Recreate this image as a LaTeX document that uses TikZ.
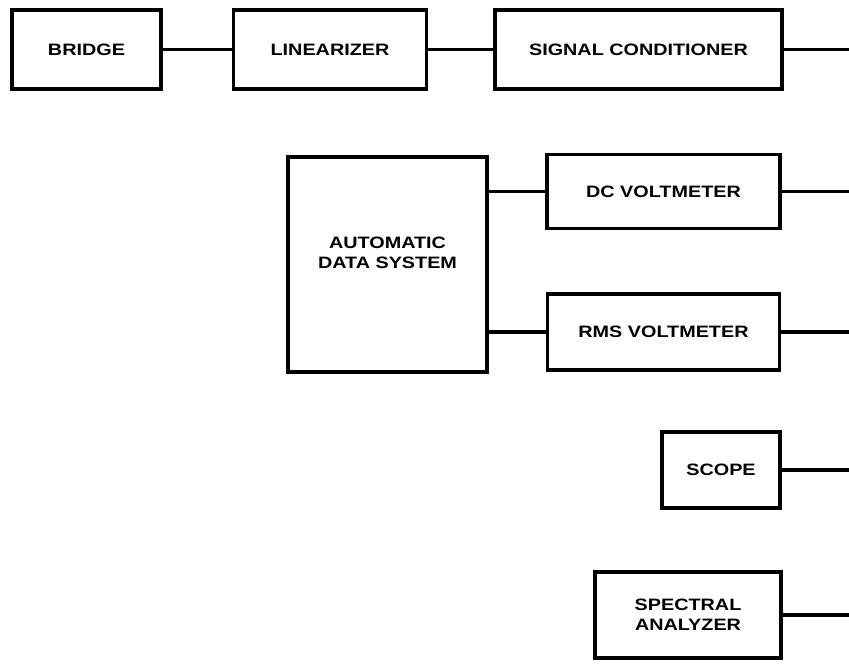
\documentclass[tikz,border=0pt]{standalone}
\usepackage{fontspec}
\setmainfont{Liberation Sans}[FakeStretch=1.2]
\usepackage{tikz}

\begin{document}
\begin{tikzpicture}[x=1pt, y=-1pt, font=\fontsize{16.5}{20}\selectfont\bfseries,
    blk/.style={draw, line width=3.4pt, align=center, inner sep=0pt},
    wire/.style={line width=3.4pt}]
  \useasboundingbox (0,0) rectangle (849,667);
  \coordinate (edge) at (849,0);

  % top chain
  \node[blk, minimum width=149pt, minimum height=79pt] (bridge) at (86.5,49.5) {BRIDGE};
  \node[blk, minimum width=193pt, minimum height=79pt] (lin) at (330,49.5) {LINEARIZER};
  \node[blk, minimum width=287pt, minimum height=79pt] (sig) at (638.5,49.5) {SIGNAL CONDITIONER};
  \draw[wire] (bridge) -- (lin);
  \draw[wire] (lin) -- (sig);
  \draw[wire] (sig.east) -- (sig.east -| edge);

  % data system and meters
  \node[blk, minimum width=199pt, minimum height=215pt] (ads) at (387.5,264.5) {AUTOMATIC\\DATA SYSTEM\\[4pt]\mbox{}};
  \node[blk, minimum width=233pt, minimum height=74pt] (dc) at (663.5,191.5) {DC VOLTMETER};
  \node[blk, minimum width=232pt, minimum height=76pt] (rms) at (663.5,332) {RMS VOLTMETER};
  \draw[wire] (dc.west -| ads.east) -- (dc.west);
  \draw[wire] (rms.west -| ads.east) -- (rms.west);
  \draw[wire] (dc.east) -- (dc.east -| edge);
  \draw[wire] (rms.east) -- (rms.east -| edge);

  % scope and analyzer
  \node[blk, minimum width=118pt, minimum height=76pt] (scope) at (721,470) {SCOPE};
  \node[blk, minimum width=186pt, minimum height=86pt] (spec) at (688,615) {SPECTRAL\\ANALYZER};
  \draw[wire] (scope.east) -- (scope.east -| edge);
  \draw[wire] (spec.east) -- (spec.east -| edge);
\end{tikzpicture}
\end{document}
